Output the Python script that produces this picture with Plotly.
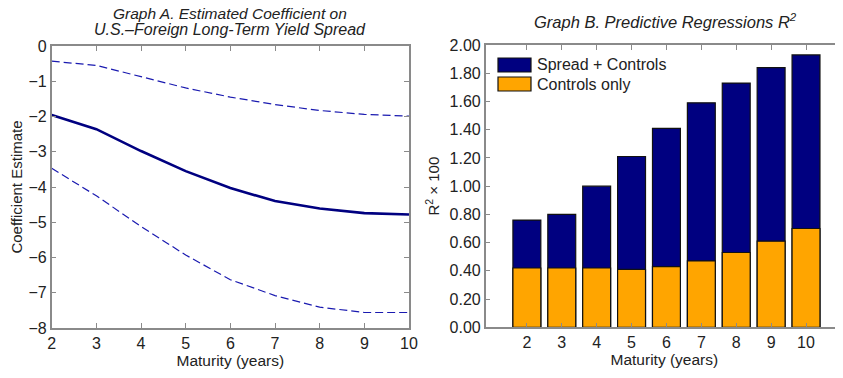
import plotly.graph_objects as go

maturity = [2, 3, 4, 5, 6, 7, 8, 9, 10]
coef_est = [-1.96, -2.36, -2.98, -3.55, -4.03, -4.40, -4.61, -4.74, -4.78]
coef_upper = [-0.43, -0.55, -0.87, -1.19, -1.45, -1.66, -1.83, -1.94, -1.99]
coef_lower = [-3.47, -4.25, -5.12, -5.93, -6.63, -7.08, -7.41, -7.56, -7.56]

r2_spread_controls = [0.76, 0.80, 1.00, 1.21, 1.41, 1.59, 1.73, 1.84, 1.93]
r2_controls_only = [0.42, 0.42, 0.42, 0.41, 0.43, 0.47, 0.53, 0.61, 0.70]

yticks_a = [0, -1, -2, -3, -4, -5, -6, -7, -8]
yticks_b = [0.0, 0.2, 0.4, 0.6, 0.8, 1.0, 1.2, 1.4, 1.6, 1.8, 2.0]

NAVY = "#000080"
ORANGE = "#FFA500"
AX = "#8a8a8a"
TXT = "#222222"
FONT = "Liberation Sans, Arial, Helvetica, sans-serif"

# page body has an 8px margin; size the figure to fill the rest of the window
OFF = 8
W, H = 843 - OFF, 378 - OFF
def px(x):
    return (x - OFF) / W
def py(y):
    return 1 - (y - OFF) / H

fig = go.Figure()

# Panel A
fig.add_trace(go.Scatter(x=maturity, y=coef_upper, mode="lines",
                         line=dict(color="#1a1ab0", width=1.2, dash="8px,4px"),
                         xaxis="x", yaxis="y", showlegend=False))
fig.add_trace(go.Scatter(x=maturity, y=coef_lower, mode="lines",
                         line=dict(color="#1a1ab0", width=1.2, dash="8px,4px"),
                         xaxis="x", yaxis="y", showlegend=False))
fig.add_trace(go.Scatter(x=maturity, y=coef_est, mode="lines",
                         line=dict(color=NAVY, width=2.6),
                         xaxis="x", yaxis="y", showlegend=False))

# Panel B
fig.add_trace(go.Bar(x=maturity, y=r2_spread_controls, width=0.8,
                     marker=dict(color=NAVY, line=dict(color="#111111", width=1.2)),
                     xaxis="x2", yaxis="y2", name="Spread + Controls", showlegend=False))
fig.add_trace(go.Bar(x=maturity, y=r2_controls_only, width=0.8,
                     marker=dict(color=ORANGE, line=dict(color="#111111", width=1.2)),
                     xaxis="x2", yaxis="y2", name="Controls only", showlegend=False))

axis_common = dict(showline=True, linecolor=AX, linewidth=1.5, ticks="inside",
                   tickcolor=AX, ticklen=5, tickwidth=1.2, showgrid=False, zeroline=False,
                   automargin=False,
                   tickfont=dict(size=16, color=TXT, family=FONT))

fig.update_layout(
    width=W, height=H,
    margin=dict(l=0, r=0, t=0, b=0, autoexpand=False),
    paper_bgcolor="white", plot_bgcolor="white",
    barmode="overlay",
    font=dict(family=FONT, color=TXT),
    xaxis=dict(domain=[px(51.7), px(409)], range=[2, 10], tickvals=maturity,
               mirror="ticks", anchor="y",
               title=dict(text="Maturity (years)", font=dict(size=15.5, color=TXT), standoff=4),
               **axis_common),
    yaxis=dict(domain=[py(328), py(46)], range=[-8, 0], tickvals=yticks_a,
               mirror="ticks", anchor="x",
               title=dict(text="Coefficient Estimate", font=dict(size=15, color=TXT), standoff=6),
               **axis_common),
    xaxis2=dict(domain=[px(485.7), 1.0], range=[0.82, 11.06], tickvals=maturity,
                mirror="ticks", anchor="y2",
                title=dict(text="Maturity (years)", font=dict(size=15.5, color=TXT), standoff=4),
                **axis_common),
    yaxis2=dict(domain=[py(327.3), py(45)], range=[0, 2.0], tickvals=yticks_b,
                tickformat=".2f", anchor="x2",
                title=dict(text="R<sup>2</sup> × 100", font=dict(size=15, color=TXT), standoff=6),
                **axis_common),
)

annotations = [
    dict(text="<i>Graph A. Estimated Coefficient on</i>",
         x=px(230), y=py(13.5), xref="paper", yref="paper", xanchor="center", yanchor="middle",
         showarrow=False, font=dict(size=15.5, color=TXT, family=FONT)),
    dict(text="<i>U.S.–Foreign Long-Term Yield Spread</i>",
         x=px(230), y=py(29.5), xref="paper", yref="paper", xanchor="center", yanchor="middle",
         showarrow=False, font=dict(size=16, color=TXT, family=FONT)),
    dict(text="<i>Graph B. Predictive Regressions R<sup>2</sup></i>",
         x=px(665), y=py(9), xref="paper", yref="paper", xanchor="center", yanchor="top",
         showarrow=False, font=dict(size=16.5, color=TXT, family=FONT)),
    dict(text="Spread + Controls", x=px(535), y=py(65), xref="paper", yref="paper",
         xanchor="left", yanchor="middle", showarrow=False,
         font=dict(size=16, color=TXT, family=FONT)),
    dict(text="Controls only", x=px(535), y=py(84), xref="paper", yref="paper",
         xanchor="left", yanchor="middle", showarrow=False,
         font=dict(size=16, color=TXT, family=FONT)),
]
shapes = [
    dict(type="rect", xref="paper", yref="paper", x0=px(498), x1=px(531), y0=py(72), y1=py(58),
         fillcolor=NAVY, line=dict(color="#111111", width=1.2)),
    dict(type="rect", xref="paper", yref="paper", x0=px(498), x1=px(531), y0=py(91), y1=py(77),
         fillcolor=ORANGE, line=dict(color="#111111", width=1.2)),
]
fig.update_layout(annotations=annotations, shapes=shapes)

fig.write_html("out.html")
